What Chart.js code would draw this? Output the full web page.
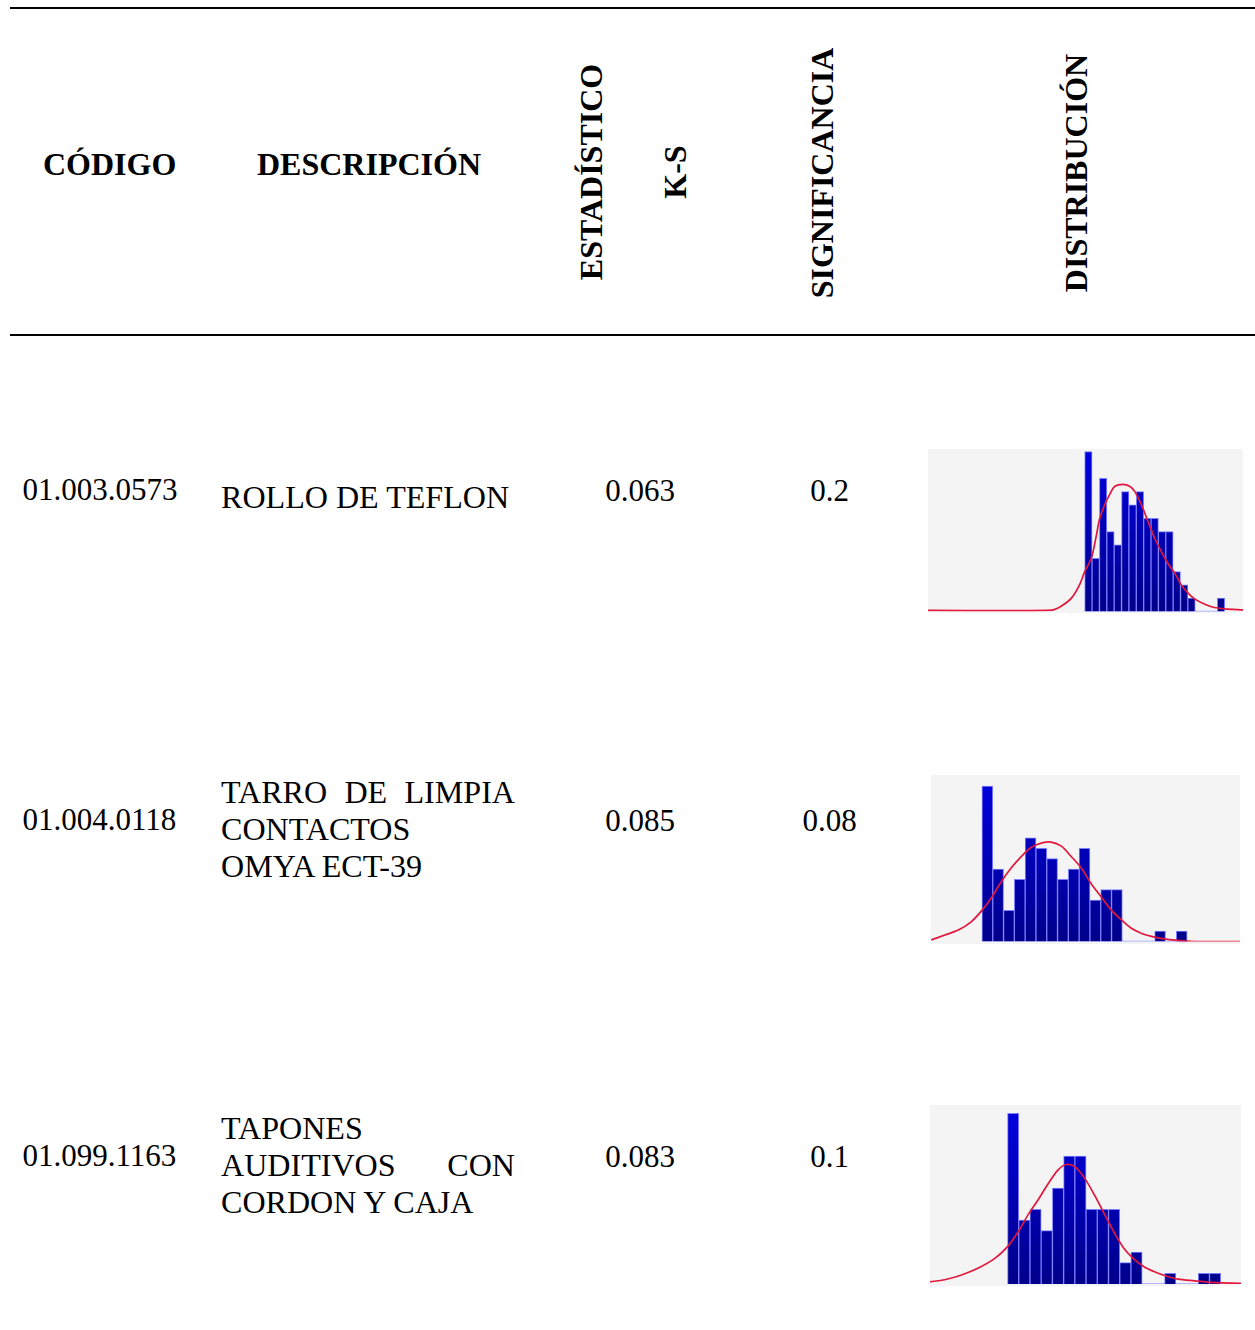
<!DOCTYPE html>
<html lang="es">
<head>
<meta charset="utf-8">
<title>Prueba K-S por artículo</title>
<script src="https://cdn.jsdelivr.net/npm/chart.js@4/dist/chart.umd.min.js"></script>
<style>
  html, body { margin: 0; padding: 0; background: #fff; }
  body { position: relative; width: 1255px; height: 1330px; overflow: hidden;
         font-family: "Liberation Serif", "Times New Roman", serif; color: #000; }
  .rule { position: absolute; left: 10px; width: 1245px; height: 2px; background: #000; }
  .txt { position: absolute; white-space: nowrap; font-size: 31px; line-height: 1; }
  .hd { font-weight: bold; font-size: 32px; }
  .desc { font-size: 32.1px; }
  .rot { transform: translate(-50%, -50%) rotate(-90deg); }
  .ctr { transform: translateX(-50%); }
  .just { text-align: justify; text-align-last: justify; }
  .hist { position: absolute; }
</style>
</head>
<body>
<div class="rule" style="top:7px"></div>
<div class="rule" style="top:334px"></div>

<canvas id="h1" class="hist"></canvas>
<canvas id="h2" class="hist"></canvas>
<canvas id="h3" class="hist"></canvas>

<script>
// ---- table content ----
const headerLabels = ['CÓDIGO', 'DESCRIPCIÓN', 'ESTADÍSTICO', 'K-S', 'SIGNIFICANCIA', 'DISTRIBUCIÓN'];
const codes = ['01.003.0573', '01.004.0118', '01.099.1163'];
const descriptions = [
  ['ROLLO DE TEFLON'],
  ['TARRO DE LIMPIA', 'CONTACTOS', 'OMYA ECT-39'],
  ['TAPONES', 'AUDITIVOS CON', 'CORDON Y CAJA']
];
const ksStatistic = ['0.063', '0.085', '0.083'];
const significance = ['0.2', '0.08', '0.1'];

// ---- histogram counts per bin (19 equal-width bins each) ----
const counts1 = [12, 4, 10, 6, 5, 9, 8, 9, 7, 7, 6, 6, 3, 2, 1, 0, 0, 0, 1];
const counts2 = [15, 7, 3, 6, 10, 9, 8, 6, 7, 9, 4, 5, 5, 0, 0, 0, 1, 0, 1];
const counts3 = [16, 6, 7, 5, 9, 12, 12, 7, 7, 7, 2, 3, 0, 0, 1, 0, 0, 1, 1];

// ---- fitted density curves (x in bin units, y in counts) ----
const curveX1 = [-21.3, -4.5, -3.2, -1.8, -0.7, 0, 0.9, 1.6, 2.0, 2.7, 3.4, 4.1, 5.2, 6.1, 6.8, 7.7, 8.6, 9.5, 10.4, 11.3, 12.2, 13.1, 14.0, 14.9, 16.3, 17.6, 19.0, 21.5];
const curveY1 = [0.08, 0.1, 0.4, 1.0, 2.0, 3.0, 4.0, 5.75, 6.9, 8.0, 8.8, 9.4, 9.55, 9.4, 9.0, 8.0, 6.75, 5.5, 4.5, 3.6, 2.9, 2.0, 1.4, 0.95, 0.55, 0.3, 0.2, 0.12];

const curveX2 = [-4.7, -3.5, -2.2, -1.0, 0, 0.86, 1.8, 2.7, 3.64, 4.57, 5.5, 6.4, 7.35, 8.27, 9.2, 10.1, 11.05, 12.0, 12.9, 13.8, 14.75, 15.7, 16.6, 18.1, 19.7, 23.9];
const curveY2 = [0.15, 0.6, 1.1, 1.9, 3.0, 4.2, 5.8, 7.1, 8.2, 9.1, 9.5, 9.6, 9.2, 8.2, 7.1, 5.6, 4.3, 3.0, 2.1, 1.3, 0.8, 0.5, 0.3, 0.1, 0, 0];

const curveX3 = [-6.9, -5.6, -4.1, -2.6, -1.13, 0, 0.95, 1.84, 2.73, 3.62, 4.51, 5.25, 6.0, 6.88, 7.77, 8.66, 9.55, 10.4, 11.3, 12.2, 13.1, 14.0, 15.2, 16.7, 18.2, 19.05, 20.8];
const curveY3 = [0.2, 0.4, 0.85, 1.5, 2.4, 3.5, 4.9, 6.5, 7.9, 9.4, 10.7, 11.2, 11.0, 9.9, 8.3, 6.5, 4.75, 3.3, 2.3, 1.6, 1.15, 0.8, 0.45, 0.3, 0.15, 0.1, 0.05];

// ---- text placement ----
function addText(str, cls, left, baseline, size, extraStyle) {
  const d = document.createElement('div');
  d.className = 'txt ' + cls;
  d.textContent = str;
  d.style.left = left + 'px';
  d.style.top = (baseline - 0.8375 * size) + 'px';
  if (extraStyle) Object.assign(d.style, extraStyle);
  document.body.appendChild(d);
  return d;
}
function addRotated(str, cx, cy) {
  const d = document.createElement('div');
  d.className = 'txt hd rot';
  d.textContent = str;
  d.style.left = cx + 'px';
  d.style.top = cy + 'px';
  document.body.appendChild(d);
}

const HB = 32, RB = 31, DB = 32.1;
addText(headerLabels[0], 'hd', 43, 175, HB);
addText(headerLabels[1], 'hd', 257, 175, HB);
addRotated(headerLabels[2], 591, 172);
addRotated(headerLabels[3], 675, 172);
addRotated(headerLabels[4], 822, 172.5);
addRotated(headerLabels[5], 1076, 172.5);

const codeBase = [500, 829.5, 1165.5];
const descBase = [507.7, 803.3, 1139.3];
const lineStep = 36.6;
codes.forEach((c, i) => {
  addText(c, '', 22.5, codeBase[i], RB);
  addText(ksStatistic[i], 'ctr', 640, codeBase[i] + 1, RB);
  addText(significance[i], 'ctr', 829.5, codeBase[i] + 1, RB);
  const lines = descriptions[i];
  lines.forEach((ln, j) => {
    const justify = lines.length > 1 && j < lines.length - 1;
    addText(ln, 'desc' + (justify ? ' just' : ''), 221, descBase[i] + j * lineStep, DB,
            justify ? { width: '294px' } : null);
  });
});

// ---- histograms ----
const panelBg = {
  id: 'panelBg',
  beforeDraw(chart) {
    const ctx = chart.ctx;
    ctx.save();
    ctx.fillStyle = '#f4f4f4';
    ctx.fillRect(0, 0, chart.width, chart.height);
    ctx.restore();
  }
};

function barFill(context) {
  const chart = context.chart;
  const a = chart.chartArea;
  if (!a) return '#0000c0';
  const g = chart.ctx.createLinearGradient(0, a.top, 0, a.bottom);
  g.addColorStop(0, '#0000e0');
  g.addColorStop(1, '#00008a');
  return g;
}

function makeHist(id, box, counts, cx, cy, xmin, xmax, ymax, padBottom) {
  const cv = document.getElementById(id);
  cv.width = box.w; cv.height = box.h;
  cv.style.left = box.x + 'px'; cv.style.top = box.y + 'px';
  cv.style.width = box.w + 'px'; cv.style.height = box.h + 'px';
  const bars = counts.map((v, i) => ({ x: i + 0.5, y: v }));
  const curve = cx.map((x, i) => ({ x: x, y: cy[i] }));
  const base = [{ x: 0, y: 0 }, { x: counts.length, y: 0 }];
  new Chart(cv, {
    type: 'bar',
    data: {
      datasets: [
        { type: 'line', data: curve, borderColor: '#e3173d', borderWidth: 1.7,
          pointRadius: 0, tension: 0.3, order: 0 },
        { type: 'bar', data: bars, backgroundColor: barFill, borderColor: '#7d7dff',
          borderWidth: 1, barPercentage: 1, categoryPercentage: 1, order: 1 },
        { type: 'line', data: base, borderColor: '#a0a0ff', borderWidth: 1.5,
          pointRadius: 0, order: 2 }
      ]
    },
    options: {
      responsive: false,
      animation: false,
      events: [],
      layout: { padding: { left: 0, right: 0, top: 0, bottom: padBottom } },
      plugins: { legend: { display: false }, tooltip: { enabled: false } },
      scales: {
        x: { type: 'linear', min: xmin, max: xmax, offset: false, display: false },
        y: { type: 'linear', min: 0, max: ymax, display: false }
      }
    },
    plugins: [panelBg]
  });
}

makeHist('h1', { x: 928, y: 449, w: 315, h: 164 }, counts1, curveX1, curveY1, -21.26, 21.48, 12.2, 1.5);
makeHist('h2', { x: 931, y: 775, w: 309, h: 169 }, counts2, curveX2, curveY2, -4.72, 23.9, 16.07, 2.5);
makeHist('h3', { x: 930, y: 1105, w: 311, h: 181 }, counts3, curveX3, curveY3, -6.91, 20.81, 16.78, 2);
</script>
</body>
</html>
